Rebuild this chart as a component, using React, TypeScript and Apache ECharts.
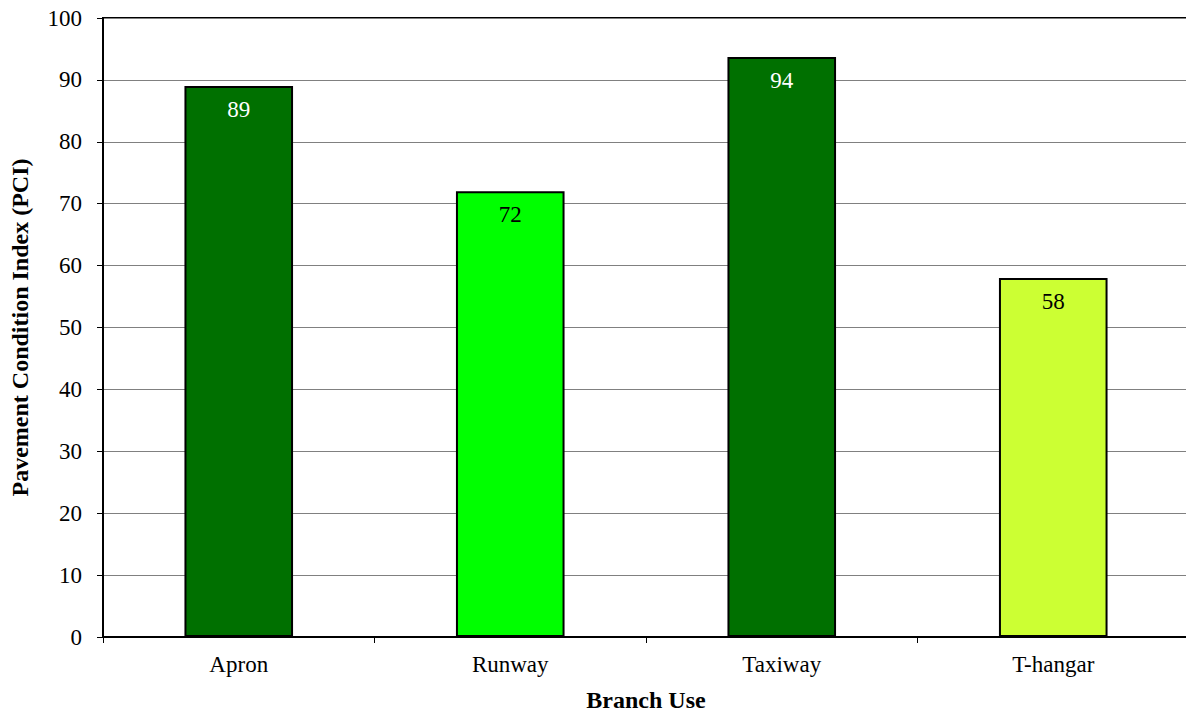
import React, { useEffect, useRef } from "react";
import * as echarts from "echarts";

const categories = ["Apron", "Runway", "Taxiway", "T-hangar"];
const pciValues = [89, 72, 93.7, 58];
const barColors = ["#007000", "#00FF00", "#007000", "#CCFF33"];
const labelColors = ["#FFFFFF", "#000000", "#FFFFFF", "#000000"];
const yTicks = { min: 0, max: 100, interval: 10 };

const FONT = "'Liberation Serif', 'Times New Roman', serif";

export default function App() {
  const ref = useRef<HTMLDivElement>(null);
  useEffect(() => {
    document.body.style.margin = "0";
    const chart = echarts.init(ref.current!, null, { renderer: "svg" });
    chart.setOption({
      animation: false,
      backgroundColor: "#FFFFFF",
      grid: {
        left: 103,
        top: 18,
        width: 1086,
        height: 619,
        containLabel: false,
        outerBoundsMode: "none",
        show: true,
        borderColor: "#000000",
        borderWidth: 2,
        backgroundColor: "transparent",
      },
      xAxis: {
        type: "category",
        data: categories,
        name: "Branch Use",
        nameLocation: "middle",
        nameGap: 51,
        nameTextStyle: { fontFamily: FONT, fontSize: 24, fontWeight: "bold", color: "#000" },
        axisLine: { lineStyle: { color: "#000", width: 2 } },
        axisTick: { show: true, length: 6, lineStyle: { color: "#000", width: 1 } },
        axisLabel: { fontFamily: FONT, fontSize: 23, color: "#000", margin: 16 },
      },
      yAxis: {
        type: "value",
        min: yTicks.min,
        max: yTicks.max,
        interval: yTicks.interval,
        name: "Pavement Condition Index (PCI)",
        nameLocation: "middle",
        nameGap: 71,
        nameRotate: 90,
        nameTextStyle: { fontFamily: FONT, fontSize: 24, fontWeight: "bold", color: "#000" },
        axisLine: { show: true, lineStyle: { color: "#000", width: 2 } },
        axisTick: { show: true, length: 6, lineStyle: { color: "#000", width: 1 } },
        axisLabel: { fontFamily: FONT, fontSize: 23, color: "#000", margin: 21 },
        splitLine: { lineStyle: { color: "#808080", width: 1 } },
      },
      series: [
        {
          type: "bar",
          barCategoryGap: "60%",
          data: pciValues.map((v, i) => ({
            value: v,
            itemStyle: { color: barColors[i], borderColor: "#000", borderWidth: 2 },
            label: { color: labelColors[i] },
          })),
          label: {
            show: true,
            position: "insideTop",
            distance: 12,
            fontFamily: FONT,
            fontSize: 23,
            formatter: (p: any) => String(Math.round(p.value)),
          },
        },
      ],
    });
    return () => chart.dispose();
  }, []);
  return <div ref={ref} style={{ position: "absolute", left: 0, top: 0, width: 1186, height: 712 }} />;
}
